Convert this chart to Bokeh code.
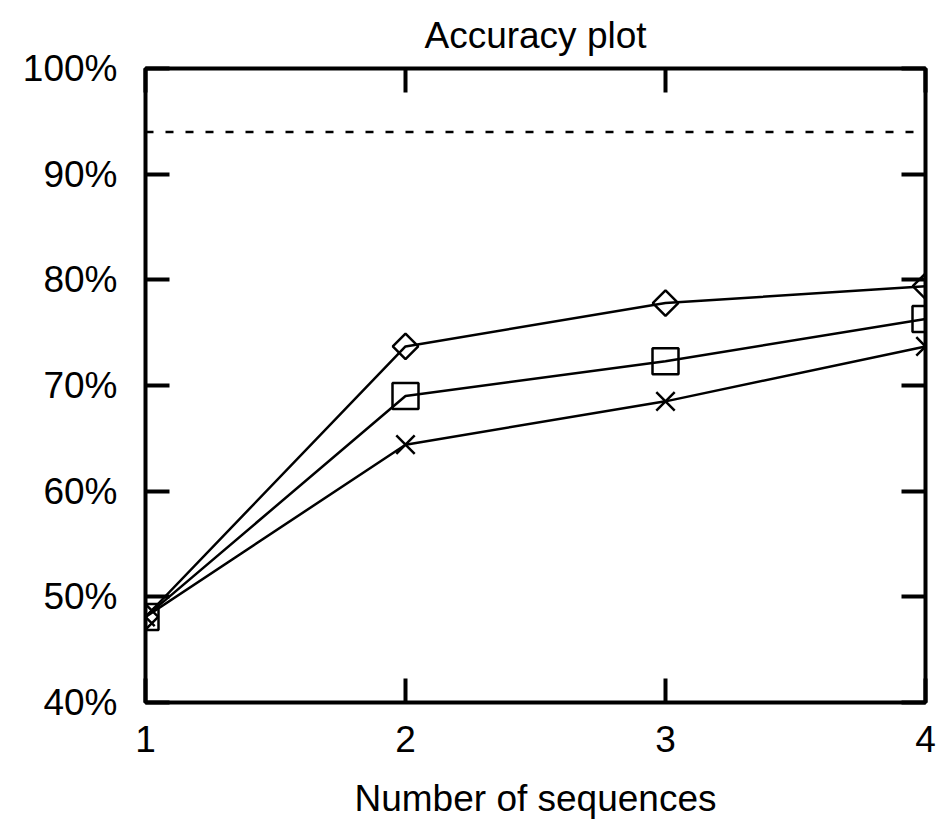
import numpy as np
from bokeh.plotting import figure
from bokeh.models import (LinearAxis, FixedTicker, Span, Range1d)
from bokeh.embed import file_html
from bokeh.resources import INLINE

# ---- data ----
sequences = [1, 2, 3, 4]
diamond_acc = [48.1, 73.7, 77.8, 79.4]
square_acc = [48.1, 69.0, 72.3, 76.3]
cross_acc = [48.1, 64.4, 68.5, 73.7]
reference_acc = 94.0
y_ticks = [40, 50, 60, 70, 80, 90, 100]
y_tick_labels = ["40%", "50%", "60%", "70%", "80%", "90%", "100%"]
x_ticks = [1, 2, 3, 4]
x_tick_labels = ["1", "2", "3", "4"]
title_text = "Accuracy plot"

FONT = "Liberation Sans"
FS = "37px"

p = figure(frame_width=780, frame_height=634,
           x_range=Range1d(1, 4), y_range=Range1d(40, 100),
           output_backend="svg", toolbar_location=None,
           x_axis_location=None, y_axis_location=None,
           min_border_left=145, min_border_top=68, min_border_right=14,
           min_border_bottom=10)
p.grid.visible = False
p.outline_line_color = "black"
p.outline_line_width = 4
p.background_fill_color = "white"
p.border_fill_color = "white"

p.title.text = title_text
p.title.text_font = FONT
p.title.text_font_size = FS
p.title.text_font_style = "normal"
p.title.text_color = "black"
p.title.align = "center"
p.title.standoff = 25


def make_axis(ticks, labels, show):
    ax = LinearAxis(ticker=FixedTicker(ticks=ticks))
    ax.axis_line_color = None
    ax.major_tick_in = 24
    ax.major_tick_out = 0
    ax.major_tick_line_width = 4
    ax.major_tick_line_color = "black"
    ax.minor_tick_line_color = None
    if show:
        ax.major_label_overrides = {t: l for t, l in zip(ticks, labels)}
        ax.major_label_text_font = FONT
        ax.major_label_text_font_size = FS
        ax.major_label_text_color = "black"
    else:
        ax.major_label_overrides = {t: "" for t in ticks}
        ax.major_label_text_font_size = "1px"
        ax.major_label_standoff = 0
    return ax


left = make_axis(y_ticks, y_tick_labels, True)
left.major_label_standoff = 28
p.add_layout(left, "left")

right = make_axis(y_ticks, y_tick_labels, False)
p.add_layout(right, "right")

bottom = make_axis(x_ticks, x_tick_labels, True)
bottom.major_label_standoff = 23
bottom.axis_label = "Number of sequences"
bottom.axis_label_text_font = FONT
bottom.axis_label_text_font_size = FS
bottom.axis_label_text_font_style = "normal"
bottom.axis_label_text_color = "black"
bottom.axis_label_standoff = 23
p.add_layout(bottom, "below")

top = make_axis(x_ticks, x_tick_labels, False)
p.add_layout(top, "above")

# reference dashed line
p.add_layout(Span(location=reference_acc, dimension="width",
                  line_color="black", line_width=2.5, line_dash="8 12"))

for ys in (diamond_acc, square_acc, cross_acc):
    p.line(sequences, ys, line_color="black", line_width=2.5)

p.scatter(sequences, diamond_acc, marker="square", angle=np.pi / 4, size=18,
          fill_color=None, line_color="black", line_width=2.5)
p.scatter(sequences, square_acc, marker="square", size=26,
          fill_color=None, line_color="black", line_width=2.5)
p.scatter(sequences, cross_acc, marker="x", size=26,
          line_color="black", line_width=2.5)

open("out.html", "w").write(file_html(p, INLINE))
